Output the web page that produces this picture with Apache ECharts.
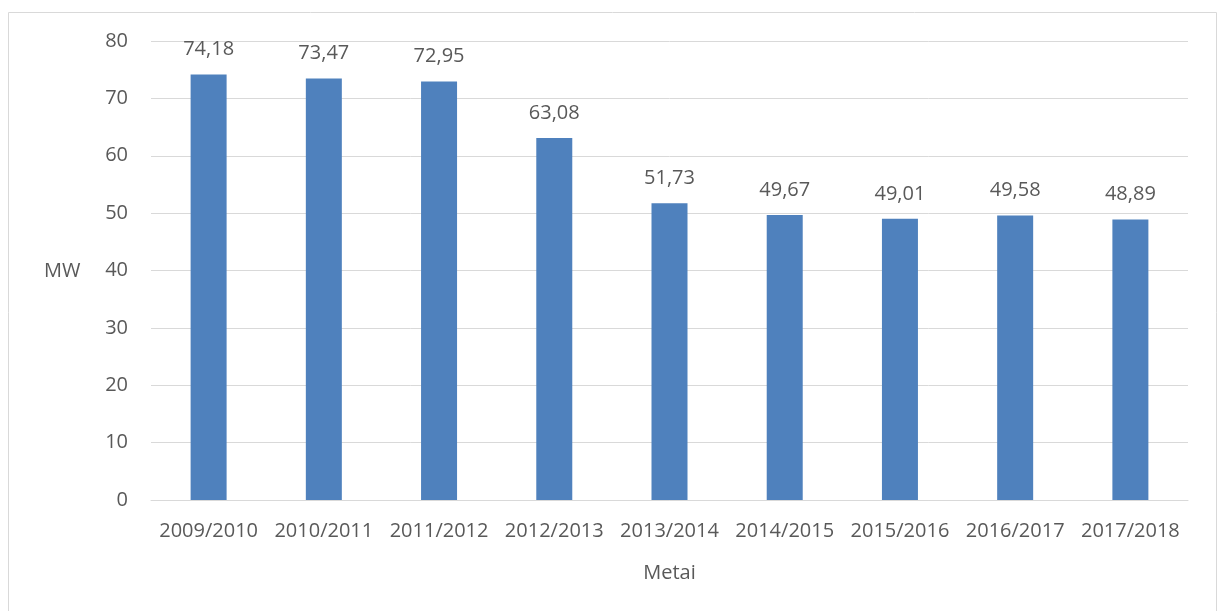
<!DOCTYPE html>
<html>
<head>
<meta charset="utf-8">
<script src="https://cdn.jsdelivr.net/npm/echarts@6/dist/echarts.min.js"></script>
<style>
  html, body { margin: 0; padding: 0; background: #fff; }
  #chart { width: 1225px; height: 611px; }
</style>
</head>
<body>
<div id="chart"></div>
<script>
var categories = ['2009/2010', '2010/2011', '2011/2012', '2012/2013', '2013/2014',
    '2014/2015', '2015/2016', '2016/2017', '2017/2018'];
var values = [74.18, 73.47, 72.95, 63.08, 51.73, 49.67, 49.01, 49.58, 48.89];
var yTicks = [0, 10, 20, 30, 40, 50, 60, 70, 80];

var font = '"Open Sans", "Noto Sans", sans-serif';
var textColor = '#595959';
var fs = 20;

var myChart = echarts.init(document.getElementById('chart'));

var option = {
    animation: false,
    color: ['#4f81bd'],
    grid: {
        left: 151,
        right: 37,
        top: 41,
        bottom: 111
    },
    graphic: [
        {
            type: 'rect',
            shape: { x: 8.5, y: 12.5, width: 1208, height: 620 },
            style: { fill: 'none', stroke: '#d9d9d9', lineWidth: 1 },
            silent: true
        },
        {
            type: 'text',
            x: 44,
            y: 271,
            style: { text: 'MW', font: fs + 'px ' + font, fill: textColor, verticalAlign: 'middle' }
        }
    ],
    xAxis: {
        type: 'category',
        data: categories,
        name: 'Metai',
        nameLocation: 'middle',
        nameGap: 63,
        nameTextStyle: { fontFamily: font, fontSize: fs, color: textColor },
        axisLine: { lineStyle: { color: '#d9d9d9', width: 1 } },
        axisTick: { show: false },
        axisLabel: { fontFamily: font, fontSize: fs, color: textColor, margin: 21, interval: 0 }
    },
    yAxis: {
        type: 'value',
        min: yTicks[0],
        max: yTicks[yTicks.length - 1],
        interval: 10,
        axisLine: { show: false },
        axisTick: { show: false },
        splitLine: { lineStyle: { color: '#d9d9d9', width: 1 } },
        axisLabel: { fontFamily: font, fontSize: fs, color: textColor, margin: 23 }
    },
    series: [
        {
            type: 'bar',
            data: values,
            barWidth: 36,
            label: {
                show: true,
                position: 'top',
                distance: 15,
                fontFamily: font,
                fontSize: fs,
                color: textColor,
                formatter: function (p) {
                    return p.value.toFixed(2).replace('.', ',');
                }
            }
        }
    ]
};

myChart.setOption(option);
</script>
</body>
</html>
